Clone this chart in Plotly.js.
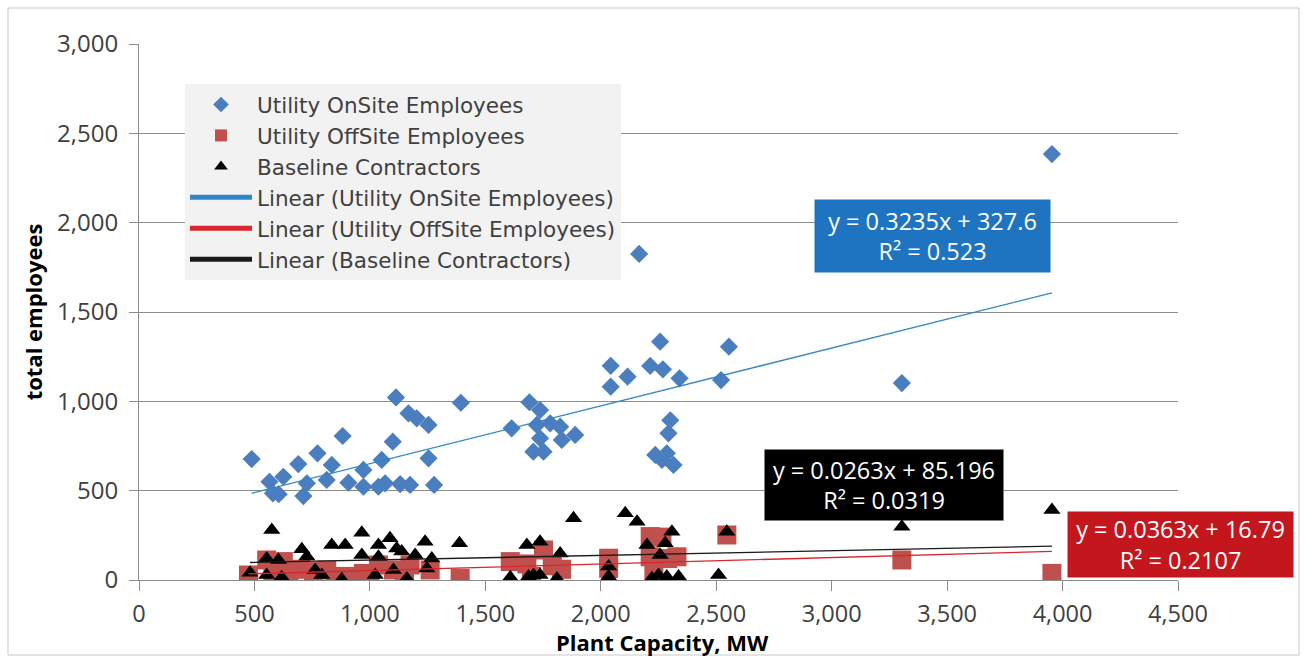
<!DOCTYPE html>
<html>
<head>
<meta charset="utf-8">
<script src="https://cdn.plot.ly/plotly-3.0.1.min.js"></script>
<style>html,body{margin:0;padding:0;background:#fff;}#chart{width:1307px;height:656px;}</style>
</head>
<body>
<div id="chart"></div>
<script>
// ---- data ----
const seriesNames = ["Utility OnSite Employees", "Utility OffSite Employees", "Baseline Contractors"];

const onsiteX = [488,565,580,605,625,690,712,727,773,813,835,882,907,972,972,1037,1051,1066,1099,1113,1131,1167,1174,1203,1254,1254,1278,1394,
  1614,1691,1708,1723,1737,1737,1752,1781,1824,1831,1889,2043,2043,2116,2166,2214,2236,2257,2265,2269,2286,2293,2301,2315,2341,2521,2555,3304,3954];
const onsiteY = [677,550,485,480,578,649,470,541,709,560,644,806,545,616,522,522,672,541,774,1022,537,933,532,905,868,681,532,992,
  849,995,718,868,951,793,718,877,858,784,812,1199,1082,1138,1825,1198,700,1334,672,1179,709,821,894,644,1129,1119,1306,1102,2384];

const offsiteX = [474,553,580,625,650,700,755,813,850,893,972,1000,1037,1102,1150,1174,1261,1391,
  1608,1680,1700,1752,1790,1830,2034,2034,2214,2265,2214,2290,2330,2230,2546,3304,3954];
const offsiteY = [28,112,10,103,30,60,47,56,15,20,37,10,84,56,20,84,56,9,
  103,90,20,168,80,60,65,122,243,240,130,120,130,40,252,112,37];

const contractorsX = [481,553,553,575,604,618,705,727,763,792,835,878,893,965,965,1023,1037,1037,1087,1102,1116,1138,1160,1196,1239,1247,1268,1388,
  1608,1680,1687,1709,1737,1737,1810,1824,1882,2034,2034,2106,2157,2200,2221,2250,2257,2279,2286,2308,2337,2510,2546,3304,3954];
const contractorsY = [41,28,121,280,112,15,172,131,56,28,196,4,196,265,140,28,196,130,233,56,177,160,9,140,214,65,121,205,
  15,196,19,28,214,28,9,149,345,75,19,373,326,196,10,28,140,205,19,270,19,28,270,298,392];

// trendline equations as printed on the chart (OnSite, OffSite, Contractors)
const trendSlopes = [0.3235, 0.0363, 0.0263];
const trendIntercepts = [327.6, 16.79, 85.196];
const trendR2 = [0.523, 0.2107, 0.0319];

const xTickVals = [0,500,1000,1500,2000,2500,3000,3500,4000,4500];
const yTickVals = [0,500,1000,1500,2000,2500,3000];
const xTitle = "Plant Capacity, MW";
const yTitle = "total employees";

// ---- styling ----
const FONT = "Open Sans, Noto Sans, sans-serif";
const LEGEND_FONT = "DejaVu Sans, Open Sans, sans-serif";
const markerColors = ["#4a7ebe", "#c0504d", "#000000"];
const trendColors = ["#2f86c6", "#d9262e", "#1a1a1a"];
const boxColors = ["#1f74c1", "#c4161d", "#000000"];

const xs = [onsiteX, offsiteX, contractorsX];
const ys = [onsiteY, offsiteY, contractorsY];
const symbols = ["diamond", "square", "triangle-up"];
const sizes = [14, 19, 15];

const traces = [];
for (let i = 0; i < 3; i++) {
  traces.push({
    type: "scatter", mode: "markers", name: seriesNames[i],
    x: xs[i], y: ys[i],
    marker: {symbol: symbols[i], size: sizes[i], color: markerColors[i], line: {width: 0}},
    hoverinfo: "skip"
  });
}
for (let i = 0; i < 3; i++) {
  const xmin = Math.min(...xs[i]), xmax = Math.max(...xs[i]);
  const lx = [xmin, xmax];
  const ly = lx.map(v => trendSlopes[i] * v + trendIntercepts[i]);
  traces.push({
    type: "scatter", mode: "lines", name: "Linear (" + seriesNames[i] + ")",
    x: lx, y: ly, line: {color: trendColors[i], width: 1.3}, hoverinfo: "skip"
  });
}

// plot-area geometry (pixels) used to place the paper-referenced boxes
const W = 1307, H = 656, L = 139, R = 129, T = 44, B = 76;
const pw = W - L - R, ph = H - T - B;
const px = v => (v - L) / pw;
const py = v => (H - B - v) / ph;

function eqText(i) {
  return "y = " + trendSlopes[i] + "x + " + trendIntercepts[i] + "<br>R\u00B2 = " + trendR2[i];
}
// box centres / sizes per series: OnSite (blue), OffSite (red), Contractors (black)
const boxCenters = [[932, 236], [1180, 544], [884, 485]];
const boxSizes = [[235, 72], [225, 65], [238, 70]];
const annotations = [];
for (let i = 0; i < 3; i++) {
  annotations.push({
    xref: "paper", yref: "paper", x: px(boxCenters[i][0]), y: py(boxCenters[i][1]),
    xanchor: "center", yanchor: "middle", showarrow: false,
    text: eqText(i), align: "center", valign: "middle",
    width: boxSizes[i][0], height: boxSizes[i][1], borderpad: 0,
    bgcolor: boxColors[i], font: {family: FONT, size: 23.5, color: "#ffffff"}
  });
}
// x-axis title, placed snugly under the tick labels as in the reference
annotations.push({
  xref: "paper", yref: "paper", x: px(662), y: py(642),
  xanchor: "center", yanchor: "middle", showarrow: false,
  text: "<b>" + xTitle + "</b>", font: {family: FONT, size: 22, color: "#000000"}
});

const layout = {
  width: W, height: H,
  margin: {l: L, r: R, t: T, b: B, pad: 0},
  paper_bgcolor: "#ffffff", plot_bgcolor: "#ffffff",
  font: {family: FONT, color: "#404040"},
  showlegend: true,
  legend: {
    x: px(185), y: py(84), xanchor: "left", yanchor: "top",
    bgcolor: "#f2f2f2", borderwidth: 0, itemsizing: "constant",
    font: {family: LEGEND_FONT, size: 21.5, color: "#404040"},
    traceorder: "normal", itemwidth: 62
  },
  xaxis: {
    range: [0, 4500], tickvals: xTickVals, tickformat: ",d",
    showgrid: false, zeroline: false, showline: true, linecolor: "#8c8c8c", linewidth: 1,
    ticks: "outside", ticklen: 10, tickcolor: "#8c8c8c", ticklabelstandoff: 3,
    tickfont: {family: FONT, size: 23.5, color: "#404040"}
  },
  yaxis: {
    range: [0, 3000], tickvals: yTickVals, tickformat: ",d",
    showgrid: true, gridcolor: "#8c8c8c", gridwidth: 1,
    zeroline: false, showline: true, linecolor: "#8c8c8c", linewidth: 1,
    ticks: "outside", ticklen: 9, tickcolor: "#8c8c8c", ticklabelstandoff: 6,
    tickfont: {family: FONT, size: 24, color: "#404040"},
    title: {text: "<b>" + yTitle + "</b>", font: {family: FONT, size: 22, color: "#000000"}, standoff: 8}
  },
  annotations: annotations,
  shapes: [{
    type: "rect", xref: "paper", yref: "paper", layer: "below",
    x0: px(8), x1: px(1299), y0: py(655), y1: py(8),
    line: {color: "#c8c8c8", width: 1}, fillcolor: "rgba(0,0,0,0)"
  }]
};

Plotly.newPlot("chart", traces, layout, {staticPlot: true, displayModeBar: false});
</script>
</body>
</html>
